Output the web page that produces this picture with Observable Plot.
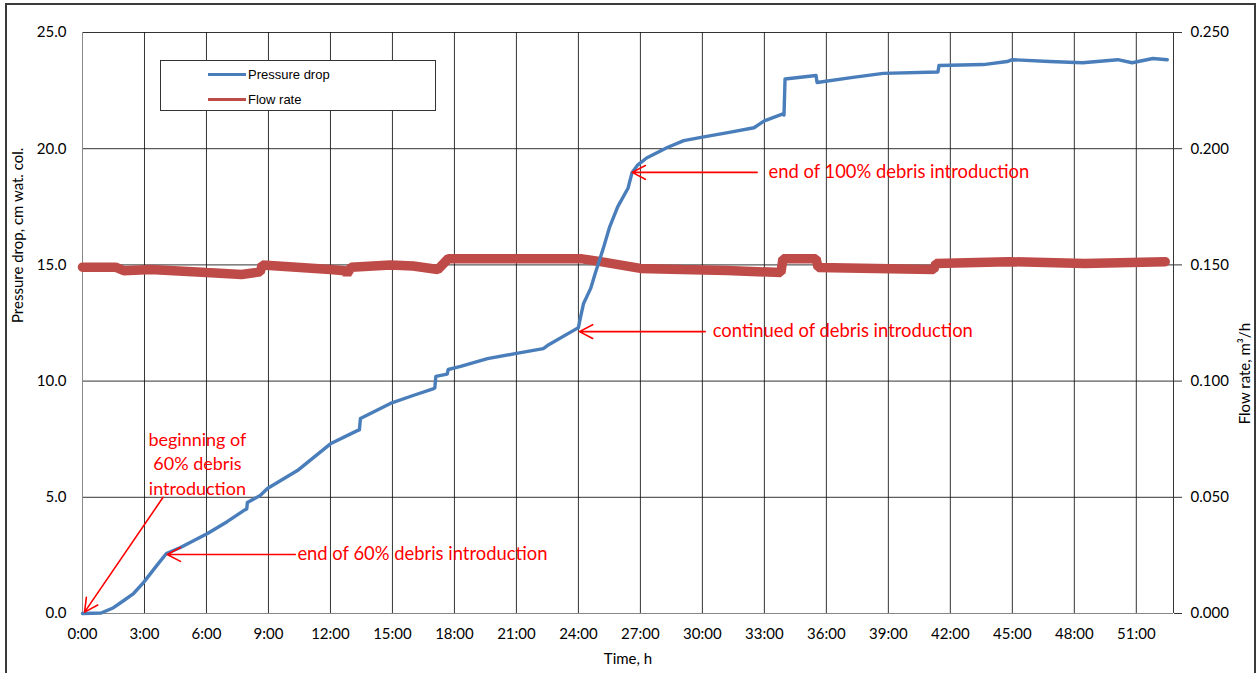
<!DOCTYPE html>
<html>
<head>
<meta charset="utf-8">
<script src="https://cdn.jsdelivr.net/npm/d3@7"></script>
<script src="https://cdn.jsdelivr.net/npm/@observablehq/plot@0.6"></script>
<style>
  html, body { margin: 0; padding: 0; background: #fff; overflow: hidden; }
  #wrap { position: relative; width: 1258px; height: 673px; }
  #border { position: absolute; left: 5px; top: 3px; width: 1251px; height: 700px; box-sizing: border-box; border: 2px solid #3a3a3a; pointer-events: none; }
  #chart { position: absolute; left: 0; top: 0; }
  #legend { position: absolute; left: 160px; top: 60px; width: 276px; height: 51px; box-sizing: border-box; border: 1px solid #333; background: #fff; font-family: "Liberation Sans", Arial, sans-serif; font-size: 13px; color: #000; }
  .lg { position: absolute; left: 47px; height: 16px; display: flex; align-items: center; }
  .lg span.sw { display: inline-block; width: 38px; height: 3px; margin-right: 2px; }
</style>
</head>
<body>
<div id="wrap">
  <div id="chart"></div>
  <div id="legend">
    <div class="lg" style="top:5px"><span class="sw" style="background:#4A7EBB"></span>Pressure drop</div>
    <div class="lg" style="top:30px"><span class="sw" style="background:#BE4B48"></span>Flow rate</div>
  </div>
  <div id="border"></div>
</div>
<script>
// ---- data ----
const pressureTime = [0, 0.9, 1.5, 2.0, 2.47, 2.95, 3.6, 4.06, 4.74, 6.05, 7.0, 7.8, 7.95, 7.98, 8.6, 8.95, 10.4, 12.0, 13.3, 13.4, 13.45, 14.9, 16.0, 17.0, 17.05, 17.1, 17.65, 17.7, 18.3, 19.6, 21.0, 22.3, 22.5, 24.0, 24.1, 24.25, 24.6, 24.8, 25.2, 25.5, 25.9, 26.4, 26.6, 26.85, 27.3, 28.3, 29.1, 30.0, 31.3, 32.5, 33.0, 33.9, 33.95, 34.0, 35.5, 35.55, 37.2, 38.75, 41.4, 41.45, 43.6, 44.75, 45.0, 46.8, 48.4, 50.1, 50.8, 51.8, 52.5];
const pressureValue = [0, 0.02, 0.25, 0.56, 0.86, 1.33, 2.07, 2.58, 2.84, 3.44, 3.95, 4.43, 4.5, 4.78, 5.08, 5.38, 6.15, 7.3, 7.87, 7.9, 8.39, 9.04, 9.38, 9.68, 9.7, 10.2, 10.3, 10.5, 10.63, 10.97, 11.19, 11.4, 11.53, 12.3, 12.74, 13.34, 14.0, 14.6, 15.7, 16.6, 17.5, 18.3, 18.98, 19.28, 19.6, 20.05, 20.35, 20.5, 20.7, 20.9, 21.2, 21.5, 21.45, 23.0, 23.15, 22.85, 23.06, 23.24, 23.3, 23.58, 23.62, 23.75, 23.83, 23.75, 23.7, 23.83, 23.7, 23.88, 23.83];

const flowTime = [0, 1.6, 2.0, 3.3, 6.0, 7.7, 8.6, 8.7, 12.0, 12.7, 12.8, 13.0, 14.9, 16.0, 17.2, 17.7, 20.7, 24.1, 25.0, 26.0, 27.0, 29.0, 31.2, 33.8, 33.9, 35.5, 35.6, 41.2, 41.3, 44.8, 48.5, 52.4];
const flowValue = [0.149, 0.149, 0.1475, 0.148, 0.1467, 0.1459, 0.147, 0.150, 0.148, 0.1475, 0.146, 0.149, 0.150, 0.1495, 0.148, 0.1527, 0.1527, 0.1527, 0.1515, 0.150, 0.1485, 0.148, 0.1476, 0.1467, 0.1527, 0.1527, 0.1489, 0.148, 0.1506, 0.1514, 0.1506, 0.1514];

const xTickHours = [0, 3, 6, 9, 12, 15, 18, 21, 24, 27, 30, 33, 36, 39, 42, 45, 48, 51];
const xTickLabels = ["0:00", "3:00", "6:00", "9:00", "12:00", "15:00", "18:00", "21:00", "24:00", "27:00", "30:00", "33:00", "36:00", "39:00", "42:00", "45:00", "48:00", "51:00"];
const leftTicks = [0, 5, 10, 15, 20, 25];
const leftTickLabels = ["0.0", "5.0", "10.0", "15.0", "20.0", "25.0"];
const rightTickLabels = ["0.000", "0.050", "0.100", "0.150", "0.200", "0.250"];
const timeMax = 52.8;

const noteText = ["beginning of\n60% debris\nintroduction", "end of 60% debris introduction", "continued of debris introduction", "end of 100% debris introduction"];
const noteX = [5.56, 10.4, 30.5, 33.2];
const noteY = [6.5, 2.54, 12.13, 18.98];
const noteAnchor = ["middle", "start", "start", "start"];
const arrowFromX = [3.9, 10.3, 30.14, 32.65];
const arrowFromY = [5.0, 2.54, 12.13, 18.98];
const arrowToX = [0.1, 4.1, 24.05, 26.6];
const arrowToY = [0.06, 2.54, 12.13, 18.98];

// ---- tables ----
const pressure = pressureTime.map((t, i) => ({t, v: pressureValue[i]}));
const flow = flowTime.map((t, i) => ({t, v: flowValue[i] * 100}));
const notes = noteText.map((s, i) => ({s, x: noteX[i], y: noteY[i], a: noteAnchor[i]}));
const arrows = arrowFromX.map((x, i) => ({x1: x, y1: arrowFromY[i], x2: arrowToX[i], y2: arrowToY[i]}));

const font = "Lato, 'Open Sans', sans-serif";

const chart = Plot.plot({
  width: 1258,
  height: 673,
  marginLeft: 82,
  marginRight: 85,
  marginTop: 32,
  marginBottom: 60,
  style: {fontFamily: font, fontSize: "15px", color: "#000", background: "transparent", overflow: "visible"},
  x: {domain: [0, timeMax]},
  y: {domain: [0, 25]},
  marks: [
    Plot.gridX(xTickHours, {stroke: "#111", strokeOpacity: 0.85}),
    Plot.gridY(leftTicks, {stroke: "#111", strokeOpacity: 0.85}),
    Plot.ruleX([timeMax], {stroke: "#111", strokeOpacity: 0.85}),
    Plot.ruleX([0], {stroke: "#888"}),
    Plot.ruleY([0], {stroke: "#888"}),
    Plot.axisX(xTickHours, {tickSize: 0, tickPadding: 15, tickFormat: (d, i) => xTickLabels[i], label: null, fontSize: 15}),
    Plot.axisY(leftTicks, {anchor: "left", tickSize: 0, tickPadding: 16, tickFormat: (d, i) => leftTickLabels[i], label: null, fontSize: 15}),
    Plot.axisY(leftTicks, {anchor: "right", tickSize: 8, tickPadding: 9, stroke: "#333", tickFormat: (d, i) => rightTickLabels[i], label: null, fontSize: 15}),
    Plot.text(["Pressure drop, cm wat. col."], {frameAnchor: "left", dx: -64, rotate: -90, fontSize: 15}),
    Plot.text(["Flow rate, m³/h"], {frameAnchor: "right", dx: 72, rotate: -90, fontSize: 15}),
    Plot.text(["Time, h"], {frameAnchor: "bottom", dy: 50, fontSize: 15}),
    Plot.line(flow, {x: "t", y: "v", stroke: "#BE4B48", strokeWidth: 9.5, strokeLinejoin: "miter"}),
    Plot.line(pressure, {x: "t", y: "v", stroke: "#4A7EBB", strokeWidth: 3.4}),
    Plot.arrow(arrows, {x1: "x1", y1: "y1", x2: "x2", y2: "y2", stroke: "#FF0000", strokeWidth: 1.6, headLength: 14, headAngle: 55}),
    Plot.text(notes, {x: "x", y: "y", text: "s", textAnchor: "middle", filter: d => d.a === "middle", fill: "#FF0000", fontSize: 18, lineHeight: 1.38}),
    Plot.text(notes, {x: "x", y: "y", text: "s", textAnchor: "start", filter: d => d.a === "start", fill: "#FF0000", fontSize: 18.4})
  ]
});
document.getElementById("chart").appendChild(chart);
</script>
</body>
</html>
